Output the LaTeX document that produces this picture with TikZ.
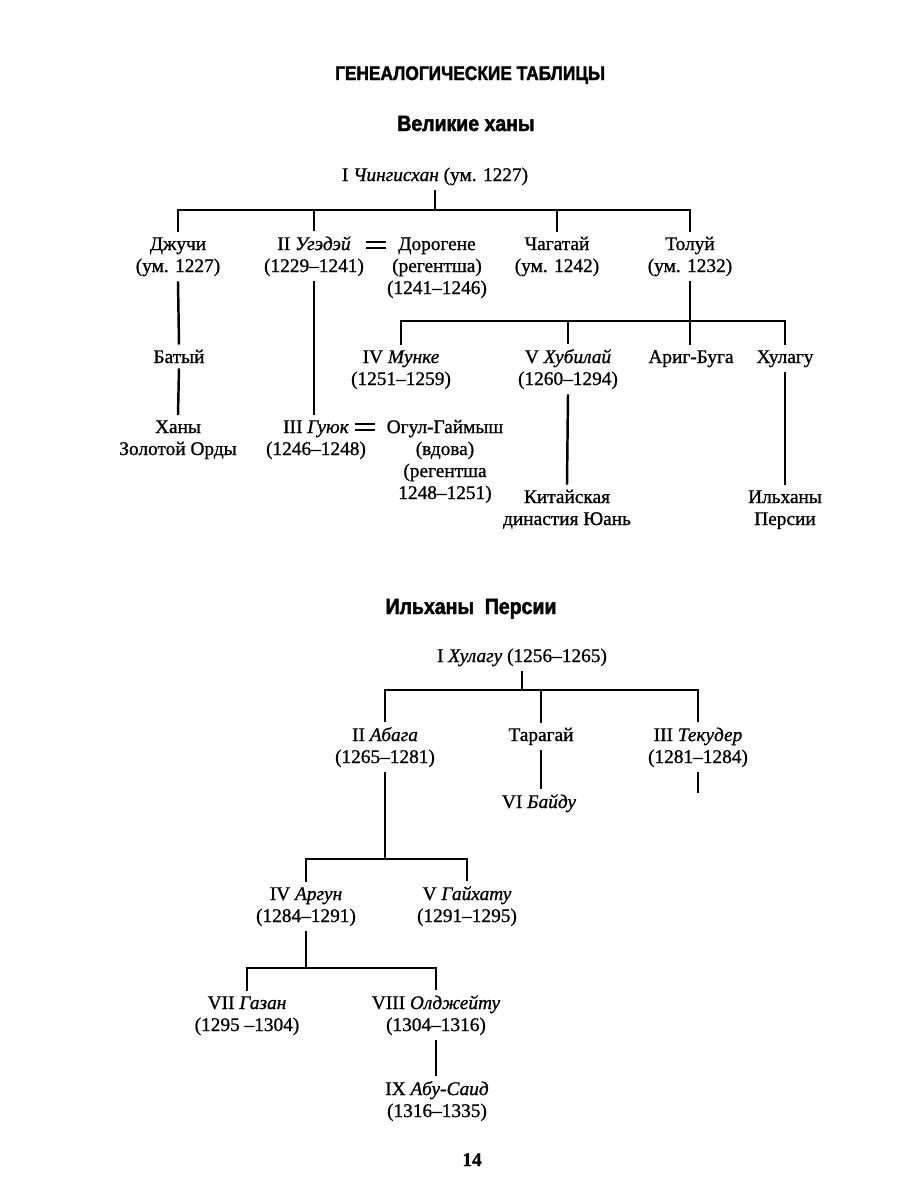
\documentclass[tikz,border=0pt]{standalone}
\usepackage{fontspec}
\setmainfont{Liberation Serif}[FakeBold=1.0]
\newfontfamily\headfont{Liberation Sans Bold}[FakeStretch=0.88,FakeBold=2]

\begin{document}
\begin{tikzpicture}[x=0.02cm,y=-0.02cm,
  person/.style={anchor=base,align=center,inner sep=3pt,outer sep=0pt,
    font=\fontsize{11}{12.5}\selectfont},
  heading/.style={anchor=base,inner sep=0pt,font=\headfont\fontsize{12.6}{14}\selectfont},
  tree/.style={line width=1.4pt},
  spouse/.style={inner sep=0pt,minimum width=0.4cm,minimum height=0.1cm}]

	\useasboundingbox (0,0) rectangle (900,1200);

	% headings
	\node[heading,font=\headfont\fontsize{11.2}{12}\selectfont] (title) at (470,80) {ГЕНЕАЛОГИЧЕСКИЕ ТАБЛИЦЫ};
	\node[heading] (khans) at (466,131) {Великие ханы};
	\node[heading] (persia) at (471,614) {Ильханы\ \ Персии};

	% the great khans (base = last line)
	\node[person] (chingis) at (435,181) {I \textit{Чингисхан} (ум. 1227)};
	\node[person] (dzhuchi) at (178,272) {Джучи\\(ум. 1227)};
	\node[person] (ugedei) at (314,272) {II \textit{Угэдэй}\\(1229–1241)};
	\node[spouse] (eq1) at (376,245) {};
	\node[person] (dorogene) at (437,294) {Дорогене\\(регентша)\\(1241–1246)};
	\node[person] (chagatai) at (557,272) {Чагатай\\(ум. 1242)};
	\node[person] (tolui) at (690,272) {Толуй\\(ум. 1232)};
	\node[person] (batyi) at (179,363) {Батый};
	\node[person] (munke) at (401,385) {IV \textit{Мунке}\\(1251–1259)};
	\node[person] (khubilai) at (568,385) {V \textit{Хубилай}\\(1260–1294)};
	\node[person] (arigbuga) at (691,363) {Ариг-Буга};
	\node[person] (khulagu) at (785,363) {Хулагу};
	\node[person] (goldenhorde) at (178,455) {Ханы\\Золотой Орды};
	\node[person] (guyuk) at (316,455) {III \textit{Гуюк}\\(1246–1248)};
	\node[spouse] (eq2) at (365,427) {};
	\node[person] (ogul) at (445,499) {Огул-Гаймыш\\(вдова)\\(регентша\\1248–1251)};
	\node[person] (yuan) at (567,525) {Китайская\\династия Юань};
	\node[person] (ilkhans) at (785,525) {Ильханы\\Персии};

	% the ilkhans
	\node[person] (khulaguI) at (522,662) {I \textit{Хулагу} (1256–1265)};
	\node[person] (abaga) at (385,763) {II \textit{Абага}\\(1265–1281)};
	\node[person] (taragai) at (541,741) {Тарагай};
	\node[person] (tekuder) at (698,763) {III \textit{Текудер}\\(1281–1284)};
	\node[person] (baidu) at (539,808) {VI \textit{Байду}};
	\node[person] (argun) at (306,922) {IV \textit{Аргун}\\(1284–1291)};
	\node[person] (gaikhatu) at (467,922) {V \textit{Гайхату}\\(1291–1295)};
	\node[person] (gazan) at (247,1031) {VII \textit{Газан}\\(1295 –1304)};
	\node[person] (oldzheitu) at (436,1031) {VIII \textit{Олджейту}\\(1304–1316)};
	\node[person] (abusaid) at (437,1117) {IX \textit{Абу-Саид}\\(1316–1335)};

	\node[person,font=\fontsize{11}{12.5}\selectfont\bfseries] (page) at (472,1166) {14};

	% levels of the bars
	\coordinate (lvl1) at (0,210);
	\coordinate (lvl2) at (0,321);
	\coordinate (lvl3) at (0,690);
	\coordinate (lvl4) at (0,859);
	\coordinate (lvl5) at (0,968);
	\coordinate (tekuderend) at (698,793);

	% marriages
	\foreach \Mark in {eq1,eq2}
	  \draw[line width=1.3pt] (\Mark.north west) -- (\Mark.north east)
	    (\Mark.south west) -- (\Mark.south east);

	% lines of the great khans
	\draw[tree] (chingis.south) -- (chingis.south |- lvl1);
	\draw[tree] (dzhuchi.north) |- (tolui.north |- lvl1) -- (tolui.north);
	\foreach \Son in {ugedei,chagatai}
	  \draw[tree] (\Son.north) -- (\Son.north |- lvl1);
	\draw[tree] (dzhuchi.south) -- (batyi.north);
	\draw[tree] (batyi.south) -- (goldenhorde.north);
	\draw[tree] (ugedei.south) -- (ugedei.south |- guyuk.north);
	\draw[tree] (tolui.south) -- (tolui.south |- arigbuga.north);
	\draw[tree] (munke.north) |- (khulagu.north |- lvl2) -- (khulagu.north);
	\draw[tree] (khubilai.north) -- (khubilai.north |- lvl2);
	\draw[tree] (khubilai.south) -- (yuan.north);
	\draw[tree] (khulagu.south) -- (ilkhans.north);

	% lines of the ilkhans
	\draw[tree] (khulaguI.south) -- (khulaguI.south |- lvl3);
	\draw[tree] (abaga.north) |- (tekuder.north |- lvl3) -- (tekuder.north);
	\draw[tree] (taragai.north) -- (taragai.north |- lvl3);
	\draw[tree] (taragai.south) -- (taragai.south |- baidu.north);
	\draw[tree] (tekuder.south) -- (tekuderend);
	\draw[tree] (abaga.south) -- (abaga.south |- lvl4);
	\draw[tree] (argun.north) |- (gaikhatu.north |- lvl4) -- (gaikhatu.north);
	\draw[tree] (argun.south) -- (argun.south |- lvl5);
	\draw[tree] (gazan.north) |- (oldzheitu.north |- lvl5) -- (oldzheitu.north);
	\draw[tree] (oldzheitu.south) -- (oldzheitu.south |- abusaid.north);
\end{tikzpicture}
\end{document}
